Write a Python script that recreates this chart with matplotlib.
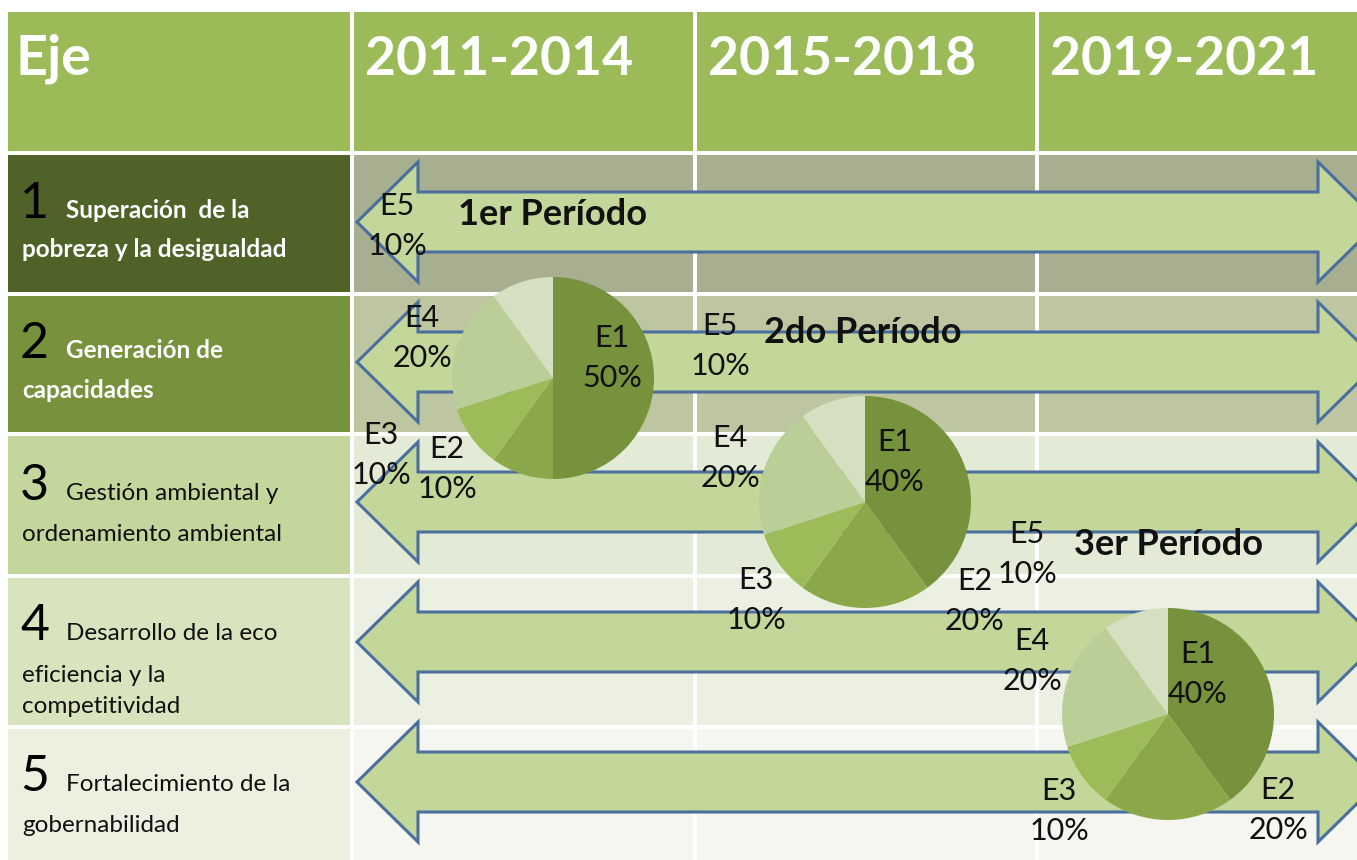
import matplotlib.pyplot as plt
from matplotlib.patches import Rectangle, Polygon

# datos
periodos = ['2011-2014', '2015-2018', '2019-2021']
ejes_num = ['1', '2', '3', '4', '5']
ejes_txt = [['Superación  de la', 'pobreza y la desigualdad'],
            ['Generación de', 'capacidades'],
            ['Gestión ambiental y', 'ordenamiento ambiental'],
            ['Desarrollo de la eco', 'eficiencia y la', 'competitividad'],
            ['Fortalecimiento de la', 'gobernabilidad']]
titulos = ['1er Período', '2do Período', '3er Período']
etiquetas = ['E1', 'E2', 'E3', 'E4', 'E5']
pie1 = [50, 10, 10, 20, 10]
pie2 = [40, 20, 10, 20, 10]
pie3 = [40, 20, 10, 20, 10]

# layout (pixels)
W, H = 1357, 860
col_x = [8, 352, 695, 1037, W]
row_y = [12, 153, 294, 434, 576, 727, H]
cell_left = ['#9BBB59', '#4F6228', '#76923C', '#C3D69B', '#D7E4BD', '#EBF1DE']
cell_rest = ['#9BBB59', '#A8AF90', '#BEC6A1', '#E3EAD6', '#EBF0E2', '#F4F6EF']
arrow_cy = [222, 362, 502, 642, 782]
txt_base = [[218, 257], [358, 398], [500, 541], [640, 682, 713], [791, 832]]
pie_c = [(553, 378), (865, 502), (1168, 714)]
pie_r = [101, 106, 106]
lab_pos = [[(612, 358), (447, 469), (381, 455), (422, 338), (397, 226)],
           [(895, 462), (975, 601), (756, 600), (730, 458), (720, 346)],
           [(1198, 674), (1278, 810), (1059, 811), (1032, 661), (1027, 554)]]
tit_pos = [(553, 225), (863, 343), (1168, 555)]
pie_cols = ['#76923C', '#8AA84A', '#9CBC59', '#BACE98', '#D4E0C1']

plt.rcParams['font.family'] = ['Lato', 'DejaVu Sans']

fig = plt.figure(figsize=(W / 100, H / 100), dpi=100)
ax = fig.add_axes([0, 0, 1, 1])

# celdas
g = 2
for i in range(len(row_y) - 1):
    for j in range(len(col_x) - 1):
        c = cell_left[i] if j == 0 else cell_rest[i]
        x0 = col_x[j] + (g if j > 0 else 0)
        x1 = col_x[j + 1] - (g if j < 3 else 0)
        y0 = row_y[i] + (g if i > 0 else 0)
        y1 = row_y[i + 1] - (g if i < 5 else 0)
        ax.add_patch(Rectangle((x0, y0), x1 - x0, y1 - y0, color=c, zorder=0, lw=0))

# encabezado
ax.text(15, 75, 'Eje', color='white', fontsize=40, fontweight='bold', va='baseline')
for j, p in enumerate(periodos):
    ax.text(col_x[j + 1] + 13, 75, p, color='white', fontsize=38.5, fontweight='bold', va='baseline')

# ejes
for i in range(5):
    b = txt_base[i]
    ax.text(20, b[0], ejes_num[i], fontsize=36, color='black', va='baseline')
    if i < 2:
        kw = dict(color='white', fontweight='bold', fontsize=17.5)
    else:
        kw = dict(color='#111111', fontsize=17.5)
    ax.text(66, b[0], ejes_txt[i][0], va='baseline', **kw)
    for k in range(1, len(ejes_txt[i])):
        ax.text(22, b[k], ejes_txt[i][k], va='baseline', **kw)

# flechas
for cy in arrow_cy:
    pts = [(357, cy), (418, cy - 60), (418, cy - 30), (1318, cy - 30), (1318, cy - 60),
           (1379, cy), (1318, cy + 60), (1318, cy + 30), (418, cy + 30), (418, cy + 60)]
    ax.add_patch(Polygon(pts, closed=True, fc='#C4D79B', ec='#4A6E9E', lw=2.2, zorder=1,
                         joinstyle='miter'))

# tortas
for k, vals in enumerate([pie1, pie2, pie3]):
    wedges, _ = ax.pie(vals, colors=pie_cols, startangle=-90, counterclock=True,
                       center=pie_c[k], radius=pie_r[k], frame=True,
                       wedgeprops=dict(lw=0, zorder=3))
    for w in wedges:
        w.set_zorder(3)
    for e, v, (lx, ly) in zip(etiquetas, vals, lab_pos[k]):
        ax.text(lx, ly, f'{e}\n{v}%', fontsize=22, ha='center', va='center',
                linespacing=1.5, color='#111111', zorder=5)
    ax.text(tit_pos[k][0], tit_pos[k][1], titulos[k], fontsize=26, fontweight='bold',
            ha='center', va='baseline', color='#111111', zorder=4)

ax.set_xlim(0, W)
ax.set_ylim(H, 0)
ax.set_aspect('auto')
ax.axis('off')

fig.savefig('out.png', dpi=100, facecolor='white')
